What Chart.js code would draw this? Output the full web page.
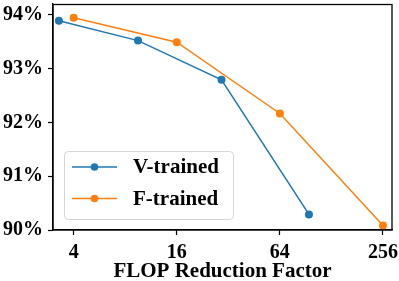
<!DOCTYPE html>
<html>
<head>
<meta charset="utf-8">
<script src="https://cdn.jsdelivr.net/npm/chart.js@4"></script>
<style>
html,body{margin:0;padding:0;background:#fff;}
#wrap{width:399px;height:281px;position:relative;}
</style>
</head>
<body>
<div id="wrap"><canvas id="c" width="399" height="281"></canvas></div>
<script>
const seriesNames = ["V-trained", "F-trained"];
const vX = [3.28, 9.5, 29.2, 94.6];
const vY = [93.89, 93.52, 92.79, 90.29];
const fX = [4, 16, 64, 256];
const fY = [93.945, 93.49, 92.165, 90.085];
const xTicks = [4, 16, 64, 256];
const yTicks = [90, 91, 92, 93, 94];
const xTitle = "FLOP Reduction Factor";
const colors = ["#1f77b4", "#ff7f0e"];

const FONT = "'Liberation Serif', 'Times New Roman', serif";

function pts(xs, ys){ return xs.map((x,i)=>({x:x, y:ys[i]})); }

const frame = {
  id:'frame',
  afterDatasetsDraw(chart){
    const {ctx, chartArea:a} = chart;
    ctx.save();
    ctx.strokeStyle = '#000';
    ctx.lineWidth = 1.3;
    ctx.strokeRect(a.left, a.top + 0.5, a.right - a.left, a.bottom - a.top - 0.5);
    ctx.restore();
  }
};

const legendBox = {
  id:'legendBox',
  afterDraw(chart){
    const {ctx, chartArea:a} = chart;
    const x0 = a.left + 11, y1 = a.bottom - 11, w = 169, h = 68, y0 = y1 - h;
    ctx.save();
    ctx.beginPath();
    ctx.roundRect(x0 + 0.5, y0 + 0.5, w, h, 4);
    ctx.fillStyle = 'rgba(255,255,255,0.8)';
    ctx.fill();
    ctx.strokeStyle = '#d6d6d6';
    ctx.lineWidth = 1;
    ctx.stroke();
    const rows = [y0 + 16, y0 + 47.5];
    seriesNames.forEach((n,i)=>{
      const y = rows[i];
      ctx.strokeStyle = colors[i];
      ctx.lineWidth = 1.5;
      ctx.beginPath();
      ctx.moveTo(x0 + 8, y);
      ctx.lineTo(x0 + 53, y);
      ctx.stroke();
      ctx.fillStyle = colors[i];
      ctx.beginPath();
      ctx.arc(x0 + 30.5, y, 3.8, 0, Math.PI*2);
      ctx.fill();
      ctx.fillStyle = '#000';
      ctx.font = "bold 21px " + FONT;
      ctx.textBaseline = 'middle';
      ctx.textAlign = 'left';
      ctx.fillText(n, x0 + 69, y + 1);
    });
    ctx.restore();
  }
};

new Chart(document.getElementById('c'), {
  type: 'line',
  data: {
    datasets: [
      {label: seriesNames[0], data: pts(vX, vY), borderColor: colors[0], backgroundColor: colors[0],
       borderWidth: 1.5, pointRadius: 4, pointBorderWidth: 0, tension: 0, clip: false},
      {label: seriesNames[1], data: pts(fX, fY), borderColor: colors[1], backgroundColor: colors[1],
       borderWidth: 1.5, pointRadius: 4, pointBorderWidth: 0, tension: 0, clip: false}
    ]
  },
  options: {
    responsive: false,
    animation: false,
    devicePixelRatio: 1,
    layout: {padding: {left: 0, right: 7, top: 0, bottom: 0}},
    plugins: {legend: {display: false}, tooltip: {enabled: false}},
    scales: {
      x: {
        type: 'logarithmic',
        min: 3.03, max: 289,
        afterBuildTicks(s){ s.ticks = xTicks.map(v=>({value:v})); },
        afterFit(s){ s.height = 51; s.paddingLeft = 0; s.paddingRight = 0; },
        grid: {drawOnChartArea: false, drawTicks: true, tickLength: 5, color: '#000', tickWidth: 1.2},
        border: {display: true, color: '#000', width: 1.3},
        ticks: {color: '#000', font: {family: FONT, size: 20, weight: 'bold'}, padding: 6,
                maxRotation: 0, autoSkip: false, callback: v => String(v)},
        title: {display: true, text: xTitle, color: '#000', font: {family: FONT, size: 21, weight: 'bold', lineHeight: 1},
                padding: {top: 0, bottom: -1}}
      },
      y: {
        type: 'linear',
        min: 90, max: 94.2,
        afterBuildTicks(s){ s.ticks = yTicks.map(v=>({value:v})); },
        afterFit(s){ s.width = 53; s.paddingTop = 0; s.paddingBottom = 0; },
        grid: {drawOnChartArea: false, drawTicks: true, tickLength: 5, color: '#000', tickWidth: 1.2},
        border: {display: true, color: '#000', width: 1.3},
        ticks: {color: '#000', font: {family: FONT, size: 20, weight: 'bold'}, padding: 5,
                callback: v => v + '%'}
      }
    }
  },
  plugins: [frame, legendBox]
});
</script>
</body>
</html>
